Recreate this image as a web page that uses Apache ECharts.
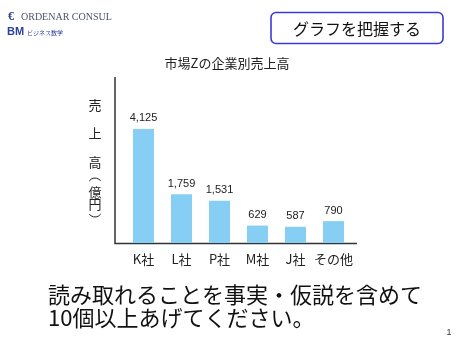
<!DOCTYPE html>
<html><head><meta charset="utf-8">
<script src="https://cdn.jsdelivr.net/npm/echarts@6/dist/echarts.min.js"></script>
<style>html,body{margin:0;padding:0;background:#fff}#c{width:465px;height:361px}</style>
</head><body><div id="c"></div>
<script>
const categories = ['K社', 'L社', 'P社', 'M社', 'J社', 'その他'];
const sales = [4125, 1759, 1531, 629, 587, 790];
const chartTitle = '市場Zの企業別売上高';

const font = '"Noto Sans CJK JP", "Noto Sans", sans-serif';
const chart = echarts.init(document.getElementById('c'));
const t = (x, y, s) => ({ type: 'text', x: x, y: y,
  style: { text: s, fontSize: 13, fill: '#222', fontFamily: font, align: 'center', verticalAlign: 'middle' } });
chart.setOption({
  animation: false,
  backgroundColor: '#fff',
  grid: { left: 124.5, width: 228, top: 77, height: 166 },
  xAxis: {
    type: 'category', data: categories,
    axisLine: { show: false }, axisTick: { show: false },
    axisLabel: { interval: 0, margin: 10, fontSize: 13, color: '#222', fontFamily: font }
  },
  yAxis: {
    type: 'value', min: 0, max: 6000,
    axisLine: { show: false }, axisTick: { show: false },
    axisLabel: { show: false }, splitLine: { show: false }
  },
  series: [{
    type: 'bar', data: sales, barWidth: 21,
    itemStyle: { color: '#86cef3' },
    label: {
      show: true, position: 'top', distance: 5, fontSize: 11, color: '#222',
      fontFamily: 'Arial, "Liberation Sans", sans-serif',
      formatter: p => p.value.toLocaleString('en-US')
    }
  }],
  graphic: [
    // axis frame
    { type: 'polyline', shape: { points: [[115, 77], [115, 243.5], [357, 243.5]] },
      style: { stroke: '#333', lineWidth: 1.5, fill: null } },
    // chart title
    t(227, 63, chartTitle),
    // vertical y-axis name
    t(95, 105, '売'), t(95, 133, '上'), t(95, 162, '高'),
    { type: 'arc', shape: { cx: 95, cy: 185, r: 7, startAngle: Math.PI * 1.2, endAngle: Math.PI * 1.8 },
      style: { stroke: '#222', lineWidth: 1, fill: null } },
    t(95, 192, '億'), t(95, 204, '円'),
    { type: 'arc', shape: { cx: 95, cy: 210, r: 7, startAngle: Math.PI * 0.2, endAngle: Math.PI * 0.8 },
      style: { stroke: '#222', lineWidth: 1, fill: null } },
    // top-right box
    { type: 'rect', shape: { x: 271, y: 12.5, width: 172, height: 31, r: 5 },
      style: { fill: '#fff', stroke: '#3b3bd6', lineWidth: 1.6 } },
    { type: 'text', x: 357, y: 28.5, style: { text: 'グラフを把握する', fontSize: 16, fill: '#111',
      fontFamily: font, align: 'center', verticalAlign: 'middle' } },
    // logo
    { type: 'text', x: 8, y: 17, style: { text: '€', fontSize: 12, fontWeight: 'bold', fill: '#2d3e8c', fontFamily: '"Liberation Serif", serif', verticalAlign: 'middle' } },
    { type: 'text', x: 21, y: 17.5, style: { text: 'ORDENAR CONSUL', fontSize: 10, fill: '#4a5270', fontFamily: '"Liberation Serif", serif', verticalAlign: 'middle' } },
    { type: 'text', x: 7, y: 32, style: { text: 'BM', fontSize: 11, fontWeight: 'bold', fill: '#2b3f9e', fontFamily: '"Liberation Sans", sans-serif', verticalAlign: 'middle' } },
    { type: 'text', x: 27, y: 33, style: { text: 'ビジネス数学', fontSize: 6, fill: '#2b3f9e', fontFamily: font, verticalAlign: 'middle' } },
    // bottom message
    { type: 'text', x: 48, y: 295, style: { text: '読み取れることを事実・仮説を含めて', fontSize: 22, fill: '#111',
      fontFamily: font, verticalAlign: 'middle' } },
    { type: 'text', x: 48, y: 318, style: { text: '10個以上あげてください。', fontSize: 22, fill: '#111',
      fontFamily: font, verticalAlign: 'middle' } },
    { type: 'text', x: 449, y: 333, style: { text: '1', fontSize: 9, fill: '#333',
      fontFamily: '"Liberation Sans", sans-serif', align: 'center', verticalAlign: 'middle' } }
  ]
});
</script></body></html>
